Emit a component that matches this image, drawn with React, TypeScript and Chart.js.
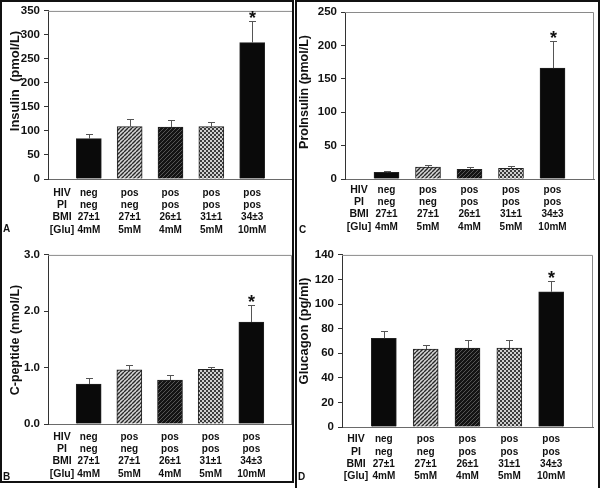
import React, { useEffect, useRef } from "react";
import { Chart, registerables } from "chart.js";

Chart.register(...registerables);

// ---------- data ----------
const slots = ["", "g1", "g2", "g3", "g4", "g5", ""];
const rowLabels = ["HIV", "PI", "BMI", "[Glu]"];
const hivRow = ["neg", "pos", "pos", "pos", "pos"];
const piRow = ["neg", "neg", "pos", "pos", "pos"];
const bmiRow = ["27±1", "27±1", "26±1", "31±1", "34±3"];
const gluRow = ["4mM", "5mM", "4mM", "5mM", "10mM"];
const significant = [false, false, false, false, true];

const insulinMean = [84, 109, 108, 109, 284];
const insulinSem = [10, 16, 15, 10, 46];
const proinsulinMean = [10, 18, 14.5, 16, 166];
const proinsulinSem = [2, 3.5, 4, 3, 41];
const cpeptideMean = [0.71, 0.96, 0.78, 0.97, 1.81];
const cpeptideSem = [0.1, 0.09, 0.09, 0.04, 0.3];
const glucagonMean = [72.2, 63.3, 64.3, 64.1, 110];
const glucagonSem = [6.3, 3.2, 6.2, 6.4, 9];

const FONT = '"Liberation Sans", Arial, Helvetica, sans-serif';

type Spec = {
  canvas: { x: number; y: number; w: number; h: number };
  plot: { l: number; r: number; t: number; b: number };
  mean: number[];
  sem: number[];
  yMax: number;
  step: number;
  decimals: number;
  title: string;
  titlePos: { x: number; y: number; size: number };
  row1: number;
  letter: string;
  letterPos: { x: number; y: number };
};

const specs: Spec[] = [
  {
    canvas: { x: 0, y: 0, w: 296, h: 244 },
    plot: { l: 48, r: 293, t: 9, b: 179 },
    mean: insulinMean, sem: insulinSem, yMax: 350, step: 50, decimals: 0,
    title: "Insulin  (pmol/L)", titlePos: { x: 15, y: 81, size: 13 },
    row1: 193, letter: "A", letterPos: { x: 3, y: 232 },
  },
  {
    canvas: { x: 296, y: 0, w: 304, h: 244 },
    plot: { l: 345, r: 594, t: 12, b: 179 },
    mean: proinsulinMean, sem: proinsulinSem, yMax: 250, step: 50, decimals: 0,
    title: "ProInsulin (pmol/L)", titlePos: { x: 305, y: 92, size: 12.5 },
    row1: 190, letter: "C", letterPos: { x: 299, y: 233 },
  },
  {
    canvas: { x: 0, y: 244, w: 296, h: 244 },
    plot: { l: 48, r: 292, t: 253, b: 424 },
    mean: cpeptideMean, sem: cpeptideSem, yMax: 3, step: 1, decimals: 1,
    title: "C-peptide (nmol/L)", titlePos: { x: 15.5, y: 340, size: 12.5 },
    row1: 437, letter: "B", letterPos: { x: 3, y: 480 },
  },
  {
    canvas: { x: 296, y: 244, w: 304, h: 244 },
    plot: { l: 342, r: 593, t: 253, b: 427 },
    mean: glucagonMean, sem: glucagonSem, yMax: 140, step: 20, decimals: 0,
    title: "Glucagon (pg/ml)", titlePos: { x: 304, y: 331, size: 13 },
    row1: 439.5, letter: "D", letterPos: { x: 298, y: 480 },
  },
];

// ---------- fill patterns ----------
function makePattern(kind: string): CanvasPattern | string {
  const c = document.createElement("canvas");
  c.width = 4;
  c.height = 4;
  const g = c.getContext("2d")!;
  if (kind === "hatchLight" || kind === "hatchDark") {
    g.fillStyle = kind === "hatchLight" ? "#d6d6d6" : "#141414";
    g.fillRect(0, 0, 4, 4);
    g.strokeStyle = kind === "hatchLight" ? "#2a2a2a" : "#555";
    g.lineWidth = kind === "hatchLight" ? 1.4 : 1;
    for (const o of [-4, 0, 4]) {
      g.beginPath();
      g.moveTo(o, 4);
      g.lineTo(o + 4, 0);
      g.stroke();
    }
  } else if (kind === "checker") {
    g.fillStyle = "#cfcfcf";
    g.fillRect(0, 0, 4, 4);
    g.fillStyle = "#3c3c3c";
    g.fillRect(0, 0, 2, 2);
    g.fillRect(2, 2, 2, 2);
  } else {
    return "#0a0a0a";
  }
  const ctx = document.createElement("canvas").getContext("2d")!;
  return ctx.createPattern(c, "repeat")!;
}

function PanelChart({ spec }: { spec: Spec }) {
  const ref = useRef<HTMLCanvasElement>(null);
  useEffect(() => {
    const canvas = ref.current!;
    const fills = [
      makePattern("solid"),
      makePattern("hatchLight"),
      makePattern("hatchDark"),
      makePattern("checker"),
      makePattern("solid"),
    ];
    const yAxisW = 40;
    const { canvas: cv, plot } = spec;
    const rows = [hivRow, piRow, bmiRow, gluRow];

    const decor = {
      id: "decor",
      beforeDatasetsDraw(chart: any) {
        const { ctx, chartArea: a } = chart;
        ctx.save();
        ctx.strokeStyle = "#8a8a8a";
        ctx.lineWidth = 1;
        ctx.beginPath();
        ctx.moveTo(a.left, a.top + 0.5);
        ctx.lineTo(a.right - 0.5, a.top + 0.5);
        ctx.lineTo(a.right - 0.5, a.bottom);
        ctx.stroke();
        ctx.restore();
      },
      afterDatasetsDraw(chart: any) {
        const { ctx } = chart;
        const xs = chart.scales.x;
        const ys = chart.scales.y;
        ctx.save();
        ctx.strokeStyle = "#555";
        ctx.lineWidth = 1;
        spec.mean.forEach((m, i) => {
          const x = Math.round(xs.getPixelForValue(i + 1)) + 0.5;
          const yb = ys.getPixelForValue(m);
          const yt = ys.getPixelForValue(m + spec.sem[i]);
          ctx.beginPath();
          ctx.moveTo(x, yb);
          ctx.lineTo(x, Math.round(yt) + 0.5);
          ctx.moveTo(x - 3.5, Math.round(yt) + 0.5);
          ctx.lineTo(x + 3.5, Math.round(yt) + 0.5);
          ctx.stroke();
          if (significant[i]) {
            ctx.fillStyle = "#111";
            ctx.font = `bold 18px ${FONT}`;
            ctx.textAlign = "center";
            ctx.textBaseline = "alphabetic";
            ctx.fillText("*", x, yt + 3);
          }
        });
        ctx.restore();
      },
      afterDraw(chart: any) {
        const { ctx } = chart;
        const xs = chart.scales.x;
        ctx.save();
        ctx.fillStyle = "#111";
        ctx.textBaseline = "middle";
        ctx.textAlign = "center";
        const rowStep = 12.3;
        const y0 = spec.row1 - cv.y;
        const labelX = xs.getPixelForValue(0) + 14;
        rowLabels.forEach((lab, r) => {
          ctx.font = `bold 10.5px ${FONT}`;
          ctx.fillText(lab, labelX, y0 + r * rowStep);
          ctx.font = `bold 10px ${FONT}`;
          rows[r].forEach((v, i) => {
            ctx.fillText(v, xs.getPixelForValue(i + 1), y0 + r * rowStep);
          });
        });
        ctx.save();
        ctx.translate(spec.titlePos.x - cv.x, spec.titlePos.y - cv.y);
        ctx.rotate(-Math.PI / 2);
        ctx.font = `bold ${spec.titlePos.size}px ${FONT}`;
        ctx.fillText(spec.title, 0, 0);
        ctx.restore();
        ctx.textAlign = "left";
        ctx.textBaseline = "alphabetic";
        ctx.font = `bold 10px ${FONT}`;
        ctx.fillText(spec.letter, spec.letterPos.x - cv.x, spec.letterPos.y - cv.y);
        ctx.restore();
      },
    };

    const chart = new Chart(canvas, {
      type: "bar",
      data: {
        labels: slots,
        datasets: [
          {
            data: [null, ...spec.mean, null],
            backgroundColor: ["#000", ...fills, "#000"] as any,
            borderColor: "#222",
            borderWidth: 1,
            barThickness: 25,
          },
        ],
      },
      options: {
        responsive: false,
        animation: false,
        devicePixelRatio: 1,
        layout: {
          padding: {
            left: plot.l - cv.x - yAxisW,
            top: plot.t - cv.y,
            right: cv.x + cv.w - plot.r,
            bottom: cv.y + cv.h - plot.b,
          },
        },
        plugins: { legend: { display: false }, tooltip: { enabled: false } },
        scales: {
          x: {
            type: "category",
            offset: false,
            grid: { display: true, drawOnChartArea: false, drawTicks: false },
            border: { display: true, color: "#6a6a6a", width: 1 },
            ticks: { display: false },
            afterFit: (s: any) => {
              s.height = 0;
            },
          },
          y: {
            min: 0,
            max: spec.yMax,
            ticks: {
              stepSize: spec.step,
              color: "#111",
              padding: 4,
              font: { family: FONT, size: 11.5, weight: "bold" },
              callback: (v: any) => Number(v).toFixed(spec.decimals),
            },
            grid: { drawOnChartArea: false, drawTicks: true, tickLength: 4, color: "#333" },
            border: { display: true, color: "#333", width: 1 },
            afterFit: (s: any) => {
              s.width = yAxisW;
            },
          },
        },
      } as any,
      plugins: [decor],
    });
    return () => chart.destroy();
  }, [spec]);

  return (
    <canvas
      ref={ref}
      width={spec.canvas.w}
      height={spec.canvas.h}
      style={{
        position: "absolute",
        left: spec.canvas.x,
        top: spec.canvas.y,
        width: spec.canvas.w,
        height: spec.canvas.h,
      }}
    />
  );
}

export default function App() {
  return (
    <div
      style={{
        position: "fixed",
        left: 0,
        top: 0,
        width: 600,
        height: 488,
        background: "#fff",
        overflow: "hidden",
      }}
    >
      {specs.map((s, i) => (
        <PanelChart key={i} spec={s} />
      ))}
      <div
        style={{
          position: "absolute",
          left: 0,
          top: 0,
          width: 294,
          height: 483,
          border: "2px solid #111",
          boxSizing: "border-box",
        }}
      />
      <div
        style={{
          position: "absolute",
          left: 295,
          top: 0,
          width: 305,
          height: 500,
          border: "2px solid #111",
          boxSizing: "border-box",
        }}
      />
    </div>
  );
}
